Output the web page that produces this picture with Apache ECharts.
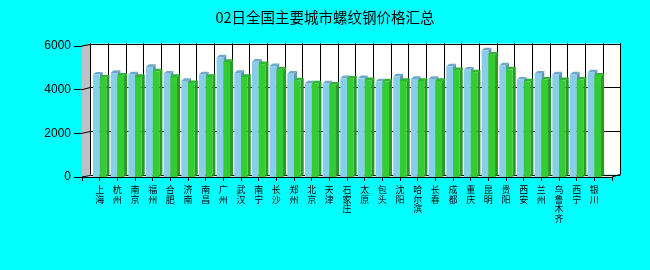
<!DOCTYPE html>
<html>
<head>
<meta charset="utf-8">
<script src="https://cdn.jsdelivr.net/npm/echarts@6/dist/echarts.min.js"></script>
<style>
html,body{margin:0;padding:0;background:#00FFFF;}
#chart{width:650px;height:270px;}
</style>
</head>
<body>
<div id="chart"></div>
<script>
// ---- data ----
const chartTitle = '02日全国主要城市螺纹钢价格汇总';
const cities = ['上海','杭州','南京','福州','合肥','济南','南昌','广州','武汉','南宁','长沙','郑州','北京','天津','石家庄','太原','包头','沈阳','哈尔滨','长春','成都','重庆','昆明','贵阳','西安','兰州','乌鲁木齐','西宁','银川'];
const priceBlue = [4690,4760,4700,5040,4730,4400,4700,5470,4760,5280,5080,4730,4280,4280,4520,4520,4380,4600,4490,4490,5060,4920,5800,5110,4460,4730,4700,4700,4790];
const priceGreen = [4550,4640,4580,4830,4580,4300,4580,5270,4580,5170,4910,4420,4280,4230,4500,4430,4380,4400,4400,4400,4890,4790,5600,4930,4380,4460,4430,4460,4640];
const yTicks = [0,2000,4000,6000];

// ---- styling constants ----
const DX = 8.3, DY = -2.5;   // wall depth
const BX = 3, BY = -2.7;     // bar depth
const BAR_FRAC = 0.38;

const xCats = [''].concat(cities, ['']);
const barData = cities.map((c, i) => [c, priceBlue[i], priceGreen[i]]);

const chart = echarts.init(document.getElementById('chart'), null, {renderer: 'canvas'});

function frameItem(params, api) {
  const cs = params.coordSys;
  const x0 = cs.x, x1 = cs.x + cs.width, yT = cs.y, yB = cs.y + cs.height;
  const ch = [];
  ch.push({type: 'rect', shape: {x: x0 + DX, y: yT + DY, width: x1 - x0, height: yB - yT}, style: {fill: '#ffffff'}});
  ch.push({type: 'polygon', shape: {points: [[x0, yB], [x1, yB], [x1 + DX, yB + DY], [x0 + DX, yB + DY]]}, style: {fill: '#e6e6e6'}});
  ch.push({type: 'polygon', shape: {points: [[x0, yB], [x0, yT], [x0 + DX, yT + DY], [x0 + DX, yB + DY]]}, style: {fill: '#c0c0c0'}});
  for (let i = 0; i < xCats.length; i++) {
    const px = Math.round(api.coord([i, 0])[0] + DX) + 0.5;
    ch.push({type: 'line', shape: {x1: px, y1: yT + DY, x2: px, y2: yB + DY}, style: {stroke: '#000', lineWidth: 1}});
  }
  yTicks.forEach(v => {
    const py = api.coord([0, v])[1];
    const by = Math.round(py + DY) + 0.5;
    ch.push({type: 'polyline', shape: {points: [[x0, py], [x0 + DX, by], [x1 + DX, by]]}, style: {stroke: '#000', lineWidth: 1, fill: null}});
  });
  ch.push({type: 'line', shape: {x1: Math.round(x1 + DX) + 0.5, y1: yT + DY, x2: Math.round(x1 + DX) + 0.5, y2: yB + DY}, style: {stroke: '#000', lineWidth: 1}});
  ch.push({type: 'line', shape: {x1: x1, y1: yB, x2: x1 + DX, y2: yB + DY}, style: {stroke: '#000', lineWidth: 1}});
  return {type: 'group', children: ch};
}

function box(x, yTop, yBase, w, front, top, side) {
  return [
    {type: 'polygon', shape: {points: [[x + w, yTop], [x + w + BX, yTop + BY], [x + w + BX, yBase + BY], [x + w, yBase]]}, style: {fill: side}},
    {type: 'polygon', shape: {points: [[x, yTop], [x + w, yTop], [x + w + BX, yTop + BY], [x + BX, yTop + BY]]}, style: {fill: top}},
    {type: 'rect', shape: {x: x, y: yTop, width: w, height: yBase - yTop}, style: {fill: front}}
  ];
}

function barItem(params, api) {
  const idx = api.value(0);
  const base = api.coord([idx, 0]);
  const step = api.coord([1, 0])[0] - api.coord([0, 0])[0];
  const w = step * BAR_FRAC;
  const cx = base[0];
  const yA = api.coord([idx, api.value(1)])[1];
  const yG = api.coord([idx, api.value(2)])[1];
  const ch = [].concat(
    box(cx - w, yA, base[1], w, '#87CEEB', '#6FA9C9', '#5E95B5'),
    box(cx, yG, base[1], w, '#33CC33', '#2DB52D', '#279A27')
  );
  return {type: 'group', children: ch};
}

chart.setOption({
  backgroundColor: '#00FFFF',
  animation: false,
  title: {
    text: chartTitle, left: 'center', top: 5,
    textStyle: {fontSize: 14.5, fontWeight: 'normal', color: '#000', fontFamily: 'Noto Sans CJK SC'}
  },
  grid: {left: 82, right: 38, top: 46, bottom: 93},
  xAxis: {
    type: 'category', data: xCats, boundaryGap: false,
    axisLine: {show: true, lineStyle: {color: '#000', width: 1}},
    axisTick: {show: true, interval: 0, length: 4, lineStyle: {color: '#000'}},
    axisLabel: {
      interval: 0, margin: 8, color: '#000', fontSize: 9, lineHeight: 9.5,
      fontFamily: 'Noto Sans CJK SC',
      formatter: v => v.split('').join('\n')
    },
    splitLine: {show: false}
  },
  yAxis: {
    type: 'value', min: 0, max: 6000, interval: 2000,
    axisLine: {show: true, lineStyle: {color: '#000', width: 1}},
    axisTick: {show: true, length: 8, lineStyle: {color: '#000'}},
    axisLabel: {margin: 11, color: '#000', fontSize: 12, fontFamily: 'Liberation Sans', formatter: v => String(v)},
    splitLine: {show: false}
  },
  series: [
    {type: 'custom', name: 'frame', renderItem: frameItem, data: [[0, 0]], z: 1, silent: true, clip: false},
    {type: 'custom', name: 'price', renderItem: barItem, data: barData, encode: {x: 0, y: [1, 2]}, z: 3, clip: false}
  ]
});
</script>
</body>
</html>
